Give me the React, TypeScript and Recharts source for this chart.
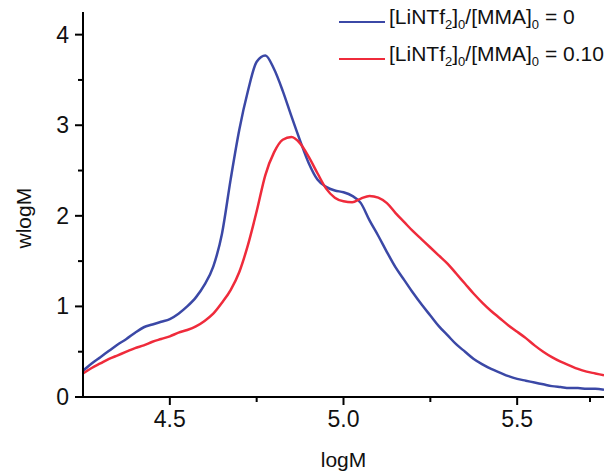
import { LineChart, Line, XAxis, YAxis } from "recharts";

const logM = [
  4.25, 4.275, 4.3, 4.325, 4.35, 4.375, 4.4, 4.425, 4.45, 4.475,
  4.5, 4.525, 4.55, 4.575, 4.6, 4.625, 4.65, 4.675, 4.7, 4.725,
  4.75, 4.775, 4.8, 4.825, 4.85, 4.875, 4.9, 4.925, 4.95, 4.975,
  5.0, 5.025, 5.05, 5.075, 5.1, 5.125, 5.15, 5.175, 5.2, 5.225,
  5.25, 5.275, 5.3, 5.325, 5.35, 5.375, 5.4, 5.425, 5.45, 5.475,
  5.5, 5.525, 5.55, 5.575, 5.6, 5.625, 5.65, 5.675, 5.7, 5.725, 5.75,
];

// [LiNTf2]0/[MMA]0 = 0
const wlogM0 = [
  0.29, 0.37, 0.44, 0.51, 0.58, 0.64, 0.71, 0.77, 0.8, 0.83,
  0.86, 0.92, 1.0, 1.1, 1.24, 1.44, 1.8, 2.4, 2.95, 3.38,
  3.7, 3.77, 3.62, 3.38, 3.1, 2.83, 2.58, 2.4, 2.32, 2.28,
  2.26, 2.22, 2.14, 1.95, 1.78, 1.6, 1.43, 1.29, 1.15, 1.02,
  0.9, 0.78, 0.68, 0.58, 0.5, 0.42, 0.36, 0.31, 0.27, 0.23,
  0.2, 0.18, 0.16, 0.14, 0.12, 0.11, 0.1, 0.1, 0.09, 0.09, 0.08,
];

// [LiNTf2]0/[MMA]0 = 0.10
const wlogM10 = [
  0.26, 0.32, 0.37, 0.42, 0.46, 0.5, 0.54, 0.57, 0.61, 0.64,
  0.67, 0.71, 0.74, 0.78, 0.84, 0.92, 1.04, 1.18, 1.38, 1.68,
  2.05, 2.45, 2.7, 2.84, 2.87, 2.8, 2.65, 2.47, 2.3, 2.2,
  2.16, 2.15, 2.19, 2.22, 2.2, 2.14, 2.03, 1.93, 1.83, 1.74,
  1.65, 1.56, 1.47, 1.36, 1.25, 1.14, 1.04, 0.95, 0.87, 0.79,
  0.72, 0.65, 0.57, 0.5, 0.44, 0.39, 0.35, 0.31, 0.28, 0.26, 0.24,
];

const xTicks = [4.5, 4.75, 5.0, 5.25, 5.5, 5.75];
const yTicks = [0, 0.5, 1, 1.5, 2, 2.5, 3, 3.5, 4];

const data = logM.map((m, i) => ({ logM: m, a: wlogM0[i], b: wlogM10[i] }));

const FONT = "Arial, 'Liberation Sans', sans-serif";
const BLUE = "#3b48a6";
const RED = "#ef2b3b";

const XTick = (props: any) => {
  const { x, y, payload } = props;
  const major = Math.abs(payload.value * 2 - Math.round(payload.value * 2)) < 1e-6;
  return (
    <g>
      <line x1={x} x2={x} y1={y} y2={y + (major ? 8 : 5)} stroke="#000" strokeWidth={2} />
      {major && (
        <text x={x} y={y + 30} textAnchor="middle" fontSize={23} fontFamily={FONT} fill="#111">
          {payload.value.toFixed(1)}
        </text>
      )}
    </g>
  );
};

const YTick = (props: any) => {
  const { x, y, payload } = props;
  const major = Number.isInteger(payload.value);
  return (
    <g>
      <line x1={x - (major ? 8 : 5)} x2={x} y1={y} y2={y} stroke="#000" strokeWidth={2} />
      {major && (
        <text x={x - 14} y={y + 8} textAnchor="end" fontSize={23} fontFamily={FONT} fill="#111">
          {payload.value}
        </text>
      )}
    </g>
  );
};

const sub = { fontSize: 13 };

const LegendRow = ({ color, value }: { color: string; value: string }) => (
  <div style={{ display: "flex", alignItems: "center", height: 37 }}>
    <div style={{ width: 46, height: 0, borderTop: `2.5px solid ${color}`, marginRight: 4 }} />
    <span style={{ fontSize: 21, fontFamily: FONT, color: "#111", whiteSpace: "nowrap", lineHeight: "24px" }}>
      [LiNTf<sub style={sub}>2</sub>]<sub style={sub}>0</sub>/[MMA]<sub style={sub}>0</sub> = {value}
    </span>
  </div>
);

export default function App() {
  return (
    <div style={{ position: "absolute", left: 0, top: 0, width: 604, height: 471, background: "#fff" }}>
      <LineChart width={604} height={471} data={data} margin={{ top: 12, right: 0, left: 0, bottom: 0 }}>
        <XAxis
          dataKey="logM"
          type="number"
          domain={[4.25, 5.75]}
          ticks={xTicks}
          allowDataOverflow
          height={74}
          tickSize={0}
          tickMargin={0}
          tickLine={false}
          tick={<XTick />}
          axisLine={{ stroke: "#000", strokeWidth: 2 }}
          label={{ value: "logM", position: "insideBottom", offset: 4, fontSize: 21, fontFamily: FONT, fill: "#111" }}
        />
        <YAxis
          type="number"
          domain={[0, 4.25]}
          ticks={yTicks}
          allowDataOverflow
          width={83}
          tickSize={0}
          tickMargin={0}
          tickLine={false}
          tick={<YTick />}
          axisLine={{ stroke: "#000", strokeWidth: 2 }}
          label={{ value: "wlogM", angle: -90, position: "insideLeft", offset: 0, dx: 24, dy: 44, fontSize: 21, fontFamily: FONT, fill: "#111" }}
        />
        <Line type="monotone" dataKey="a" stroke={BLUE} strokeWidth={2.5} dot={false} isAnimationActive={false} />
        <Line type="monotone" dataKey="b" stroke={RED} strokeWidth={2.5} dot={false} isAnimationActive={false} />
      </LineChart>
      <div style={{ position: "absolute", left: 339, top: 3 }}>
        <LegendRow color={BLUE} value="0" />
        <LegendRow color={RED} value="0.10" />
      </div>
    </div>
  );
}
